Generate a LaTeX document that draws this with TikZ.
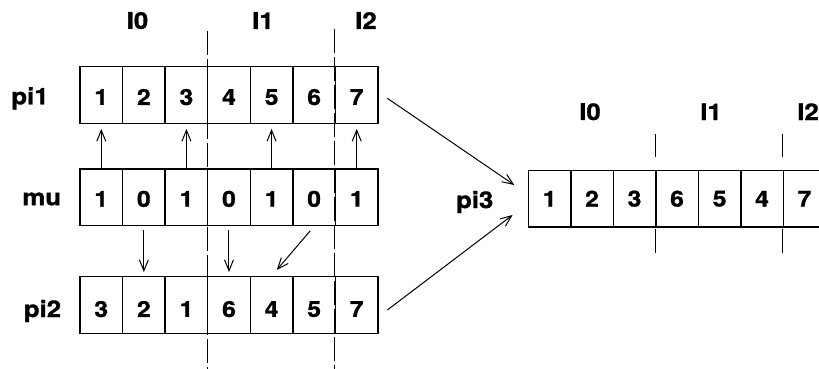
\documentclass[tikz,border=0pt]{standalone}
\usepackage{fontspec}
\setmainfont{TeX Gyre Heros}[FakeStretch=1.12,BoldFeatures={FakeBold=1.2}]
\usetikzlibrary{arrows.meta,calc}
\newcommand\cellnum[2]{\raisebox{-#1}[\height][0pt]{#2}}
\begin{document}
\begin{tikzpicture}[x=1pt,y=-1pt,
  cell/.style={draw,line width=1.3pt,minimum width=42.6pt,minimum height=56.6pt,inner sep=0pt,font=\fontsize{22}{22}\selectfont\bfseries},
  lbl/.style={inner sep=0pt,font=\fontsize{23}{23}\selectfont\bfseries},
  arr/.style={-{Straight Barb[length=11pt,width=9pt,line width=1pt]},line width=1pt},
  divider/.style={line width=1pt,dash pattern=on 24pt off 4pt},
  tick/.style={line width=1pt}]
\clip (0,0) rectangle (819,369);
\fill[white] (0,0) rectangle (819,369);
% arrays
\foreach \v [count=\i] in {1,2,3,4,5,6,7}
  \node[cell] (p1-\i) at ({80+42.57*(\i-0.5)},95) {\cellnum{2pt}{\v}};
\foreach \v [count=\i] in {1,0,1,0,1,0,1}
  \node[cell] (m-\i) at ({80+42.57*(\i-0.5)},197.3) {\cellnum{1.5pt}{\v}};
\foreach \v [count=\i] in {3,2,1,6,4,5,7}
  \node[cell] (p2-\i) at ({80+42.57*(\i-0.5)},305) {\cellnum{4pt}{\v}};
\foreach \v [count=\i] in {1,2,3,6,5,4,7}
  \node[cell] (p3-\i) at ({528.3+42.5*(\i-0.5)},198.7) {\v};
% row labels
\node[lbl] (lpi1) at (30,98.3) {pi1};
\node[lbl] (lmu) at (41.7,199) {mu};
\node[lbl] (lpi2) at (42.5,311) {pi2};
\node[lbl] (lpi3) at (474.7,202) {pi3};
% headers
\node[lbl] (h0) at (137.5,20.5) {I0};
\node[lbl] (h1) at (263,20.5) {I1};
\node[lbl] (h2) at (366,20.5) {I2};
\node[lbl] (g0) at (590,111.7) {I0};
\node[lbl] (g1) at (711,111.7) {I1};
\node[lbl] (g2) at (808,111.7) {I2};
% dividers
\draw[divider] ($(p1-4.north west)+(0,-35)$) -- (p1-4.north west |- 0,369);
\draw[divider] ($(p1-7.north west)+(0,-37)$) -- (p1-7.north west |- 0,369);
\draw[tick] ($(p3-4.north west)+(0,-35.7)$) -- ($(p3-4.north west)+(0,-12.7)$);
\draw[tick] ($(p3-4.south west)+(0,1.3)$) -- ($(p3-4.south west)+(0,25.3)$);
\draw[tick] ($(p3-7.north west)+(0,-35.7)$) -- ($(p3-7.north west)+(0,-12.7)$);
\draw[tick] ($(p3-7.south west)+(0,1.3)$) -- ($(p3-7.south west)+(0,25.3)$);
% up arrows
\foreach \i in {1,3,5,7}
  \draw[arr,shorten >=5pt] (m-\i.north) -- (p1-\i.south);
% down arrows
\foreach \i in {2,4}
  \draw[arr,shorten <=4pt,shorten >=4pt] (m-\i.south) -- (p2-\i.north);
\draw[arr,shorten <=6pt,shorten >=8pt] (m-6.south) -- (p2-5.north);
% to pi3
\coordinate (a1s) at ($(p1-7.east)+(8.7,3.3)$);
\coordinate (a1e) at ($(p3-1.west)+(-13.3,-13.7)$);
\coordinate (a2s) at ($(p2-7.east)+(8.7,5)$);
\coordinate (a2e) at ($(p3-1.west)+(-15,16.3)$);
\draw[arr] (a1s) -- (a1e);
\draw[arr] (a2s) -- (a2e);
\end{tikzpicture}
\end{document}
